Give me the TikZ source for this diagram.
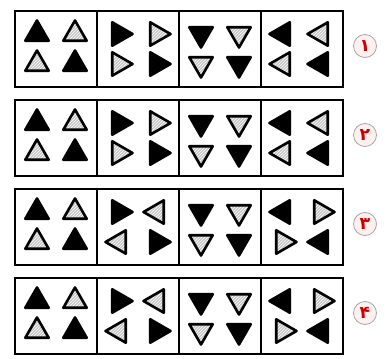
\documentclass[tikz,border=0pt]{standalone}
\usepackage{fontspec}
\newfontfamily\persianfont[Script=Arabic]{DejaVu Sans}
\TeXXeTstate=1
\usetikzlibrary{patterns}

\begin{document}
\begin{tikzpicture}[
    x=1pt, y=1pt,
    cell/.style={rectangle, draw, line width=1.5pt, minimum width=82pt, minimum height=76pt, inner sep=0pt},
    tri/.pic={\path[#1] (90:13.5) -- (210:13.5) -- (330:13.5) -- cycle;},
    darktri/.style={draw=black, fill=black, line width=2.6pt, line join=round},
    stripetri/.style={preaction={fill=gray!45}, pattern=north east lines, pattern color=white, draw=black, line width=2.6pt, line join=round},
    badge/.style={circle, draw=gray!70, line width=0.8pt, fill=red!6, minimum size=23pt, inner sep=0pt, text=red!80!black, font=\persianfont\bfseries\LARGE}
]
    \useasboundingbox (0,0) rectangle (390,-358);

    % Rows 1-4: four cells each, numbered badge on the right
    \foreach \r/\flip/\d in {1/0/۱, 2/0/۲, 3/180/۳, 4/180/۴} {
        \foreach \c/\a in {1/0, 2/-90, 3/180, 4/90} {
            \node[cell] (cell\r\c) at ({56+82*(\c-1)}, {-49-89*(\r-1)}) {};
            % striped pair turns round in cells 2 and 4 of rows 3-4
            \pgfmathsetmacro\b{\a+iseven(\c)*\flip}
            \pic[rotate=\a] at ([shift={(-19,15)}]cell\r\c.center) {tri=darktri};
            \pic[rotate=\b] at ([shift={(19,15)}]cell\r\c.center) {tri=stripetri};
            \pic[rotate=\b] at ([shift={(-19,-15)}]cell\r\c.center) {tri=stripetri};
            \pic[rotate=\a] at ([shift={(19,-15)}]cell\r\c.center) {tri=darktri};
        }
        \node[badge] (num\r) at (365, {-46-89*(\r-1)}) {\beginR\d\endR};
    }
\end{tikzpicture}
\end{document}
